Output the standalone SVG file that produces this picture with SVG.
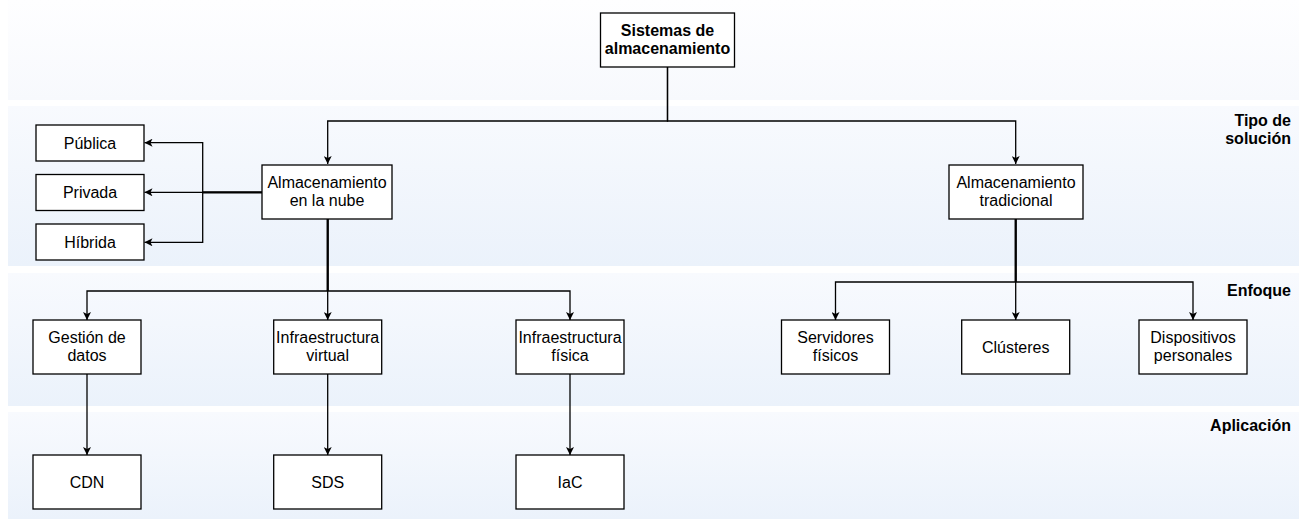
<svg xmlns="http://www.w3.org/2000/svg" width="1304" height="519" viewBox="0 0 1304 519">
  <defs>
    <linearGradient id="laneFill" x1="0" y1="0" x2="0" y2="1">
      <stop offset="0" stop-color="#f8fafe"/>
      <stop offset="1" stop-color="#ebf2fb"/>
    </linearGradient>
    <linearGradient id="topFill" x1="0" y1="0" x2="0" y2="1">
      <stop offset="0" stop-color="#fefeff"/>
      <stop offset="1" stop-color="#f7f9fd"/>
    </linearGradient>
    <marker id="arrow" viewBox="0 0 10 10" refX="10" refY="5" markerWidth="8" markerHeight="8" markerUnits="userSpaceOnUse" orient="auto">
      <path d="M0,0 L10,5 L0,10 L2.5,5 z" fill="#000"/>
    </marker>
    <style>
      .box { fill: #ffffff; stroke: #000000; stroke-width: 1.3; }
      .lbl { font-family: "Liberation Sans", Arial, Helvetica, sans-serif; font-size: 16px; fill: #000; text-anchor: middle; }
      .bold { font-weight: bold; }
      .lane { font-family: "Liberation Sans", Arial, Helvetica, sans-serif; font-size: 16px; font-weight: bold; fill: #000; text-anchor: end; }
      .edge { fill: none; stroke: #000; stroke-width: 1.3; marker-end: url(#arrow); }
      .trunk { fill: none; stroke: #000; stroke-width: 1.3; }
    </style>
  </defs>

  <!-- horizontal lanes -->
  <g id="lanes">
    <rect x="8" y="0" width="1291" height="100" fill="url(#topFill)"/>
    <rect x="8" y="106" width="1291" height="160" fill="url(#laneFill)"/>
    <rect x="8" y="273" width="1291" height="133" fill="url(#laneFill)"/>
    <rect x="8" y="412" width="1291" height="107" fill="url(#laneFill)"/>
    <text class="lane" x="1291" y="126">Tipo de</text>
    <text class="lane" x="1291" y="144">solución</text>
    <text class="lane" x="1291" y="296">Enfoque</text>
    <text class="lane" x="1291" y="431">Aplicación</text>
  </g>

  <!-- connectors -->
  <g id="connectors">
    <!-- root to solution types -->
    <path class="edge" d="M667.5,67 V121 H327.7 V164"/>
    <path class="edge" d="M667.5,67 V121 H1015.7 V164"/>
    <!-- cloud to deployment models -->
    <path class="edge" d="M262,192.3 H144.5"/>
    <path class="edge" d="M262,191.8 H202.7 V142.7 H144.5"/>
    <path class="edge" d="M262,192.8 H202.7 V242.3 H144.5"/>
    <!-- cloud to approaches -->
    <path class="edge" d="M327.2,219 V291 H87 V320"/>
    <path class="edge" d="M327.7,219 V320"/>
    <path class="edge" d="M328.2,219 V291 H570 V320"/>
    <!-- traditional to approaches -->
    <path class="edge" d="M1015.2,219 V282 H835.5 V320"/>
    <path class="edge" d="M1015.7,219 V320"/>
    <path class="edge" d="M1016.2,219 V282 H1193 V320"/>
    <!-- approaches to applications -->
    <path class="edge" d="M87,374 V455"/>
    <path class="edge" d="M327.7,374 V455"/>
    <path class="edge" d="M570,374 V455"/>
  </g>

  <g id="root">
    <rect class="box" x="600.5" y="13" width="134" height="54"/>
    <text class="lbl bold" x="667.5" y="36">Sistemas de</text>
    <text class="lbl bold" x="667.5" y="54">almacenamiento</text>
  </g>

  <g id="cloud">
    <rect class="box" x="262" y="165" width="130" height="54"/>
    <text class="lbl" x="327" y="188">Almacenamiento</text>
    <text class="lbl" x="327" y="206">en la nube</text>
  </g>

  <g id="traditional">
    <rect class="box" x="949" y="165" width="134" height="54"/>
    <text class="lbl" x="1016" y="188">Almacenamiento</text>
    <text class="lbl" x="1016" y="206">tradicional</text>
  </g>

  <g id="public">
    <rect class="box" x="36" y="125" width="108" height="36"/>
    <text class="lbl" x="90" y="149">Pública</text>
  </g>
  <g id="private">
    <rect class="box" x="36" y="174.5" width="108" height="36"/>
    <text class="lbl" x="90" y="198">Privada</text>
  </g>
  <g id="hybrid">
    <rect class="box" x="36" y="224" width="108" height="36"/>
    <text class="lbl" x="90" y="248">Híbrida</text>
  </g>

  <g id="data-management">
    <rect class="box" x="33" y="320" width="108" height="54"/>
    <text class="lbl" x="87" y="343">Gestión de</text>
    <text class="lbl" x="87" y="361">datos</text>
  </g>
  <g id="virtual-infra">
    <rect class="box" x="273.7" y="320" width="108" height="54"/>
    <text class="lbl" x="327.7" y="343">Infraestructura</text>
    <text class="lbl" x="327.7" y="361">virtual</text>
  </g>
  <g id="physical-infra">
    <rect class="box" x="516" y="320" width="108" height="54"/>
    <text class="lbl" x="570" y="343">Infraestructura</text>
    <text class="lbl" x="570" y="361">física</text>
  </g>

  <g id="servers">
    <rect class="box" x="781.5" y="320" width="108" height="54"/>
    <text class="lbl" x="835.5" y="343">Servidores</text>
    <text class="lbl" x="835.5" y="361">físicos</text>
  </g>
  <g id="clusters">
    <rect class="box" x="961.7" y="320" width="108" height="54"/>
    <text class="lbl" x="1015.7" y="353">Clústeres</text>
  </g>
  <g id="devices">
    <rect class="box" x="1139" y="320" width="108" height="54"/>
    <text class="lbl" x="1193" y="343">Dispositivos</text>
    <text class="lbl" x="1193" y="361">personales</text>
  </g>

  <g id="cdn">
    <rect class="box" x="33" y="455" width="108" height="54"/>
    <text class="lbl" x="87" y="488">CDN</text>
  </g>
  <g id="sds">
    <rect class="box" x="273.7" y="455" width="108" height="54"/>
    <text class="lbl" x="327.7" y="488">SDS</text>
  </g>
  <g id="iac">
    <rect class="box" x="516" y="455" width="108" height="54"/>
    <text class="lbl" x="570" y="488">IaC</text>
  </g>
</svg>
